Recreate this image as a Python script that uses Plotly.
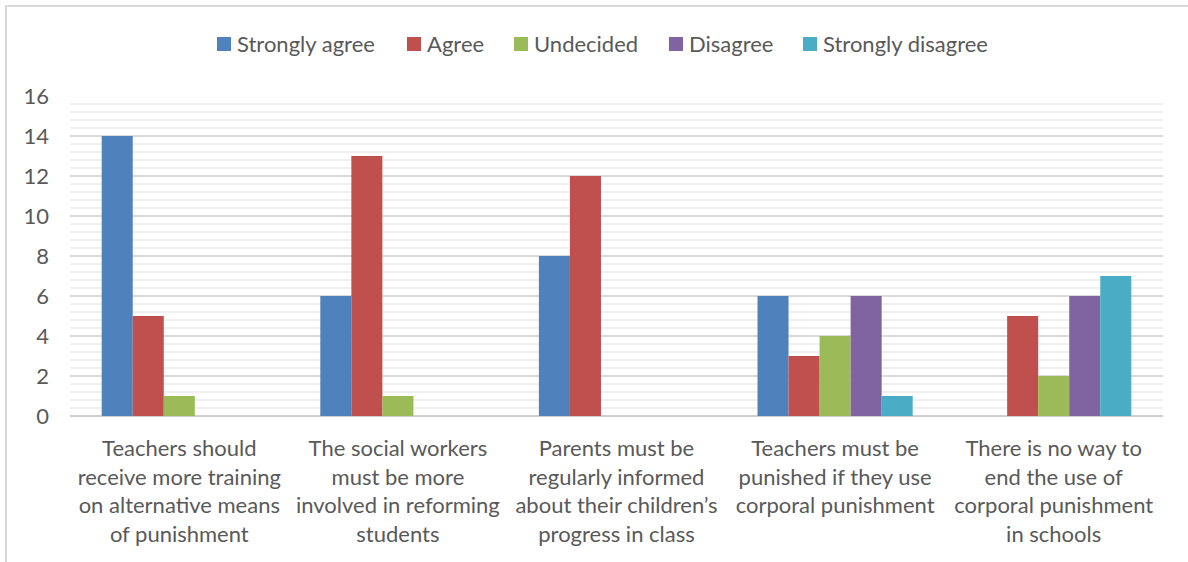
import plotly.graph_objects as go

# Survey statements (category axis)
categories = [
    "Teachers should<br>receive more training<br>on alternative means<br>of punishment",
    "The social workers<br>must be more<br>involved in reforming<br>students",
    "Parents must be<br>regularly informed<br>about their children’s<br>progress in class",
    "Teachers must be<br>punished if they use<br>corporal punishment",
    "There is no way to<br>end the use of<br>corporal punishment<br>in schools",
]

# Number of respondents per response option
strongly_agree = [14, 6, 8, 6, 0]
agree = [5, 13, 12, 3, 5]
undecided = [1, 1, 0, 4, 2]
disagree = [0, 0, 0, 6, 6]
strongly_disagree = [0, 0, 0, 1, 7]

series_names = ["Strongly agree", "Agree", "Undecided", "Disagree", "Strongly disagree"]
series_values = [strongly_agree, agree, undecided, disagree, strongly_disagree]
series_colors = ["#4F81BD", "#C0504D", "#9BBB59", "#8064A2", "#4BACC6"]

y_ticks = [0, 2, 4, 6, 8, 10, 12, 14, 16]

FONT = "Lato"
TEXT_COLOR = "#595959"

fig = go.Figure()
for name, vals, color in zip(series_names, series_values, series_colors):
    fig.add_trace(go.Bar(
        x=categories, y=vals, name=name,
        marker=dict(color=color, line=dict(width=0)),
        showlegend=False,
    ))

W, H = 1188, 562
ML, MR, MT, MB = 70, 25, 96, 146
pw, ph = W - ML - MR, H - MT - MB

def px_x(p):
    return (p - ML) / pw

def px_y(p):
    return 1 - (p - MT) / ph

# Legend row across the top: a colour key square followed by its label
legend_left_px = [217, 407, 514, 669, 803]
legend_center_y = 44
key_size = 14

shapes = [
    dict(type="rect", xref="paper", yref="paper",
         x0=px_x(6), x1=px_x(1200), y0=px_y(575), y1=px_y(6),
         line=dict(color="#D9D9D9", width=2), fillcolor="rgba(0,0,0,0)",
         layer="below"),
]
annotations = []
for name, color, left in zip(series_names, series_colors, legend_left_px):
    shapes.append(dict(
        type="rect", xref="paper", yref="paper",
        x0=px_x(left), x1=px_x(left + key_size),
        y0=px_y(legend_center_y + key_size / 2), y1=px_y(legend_center_y - key_size / 2),
        line=dict(width=0), fillcolor=color,
    ))
    annotations.append(dict(
        xref="paper", yref="paper", x=px_x(left + key_size + 4), y=px_y(legend_center_y),
        xanchor="left", yanchor="middle", showarrow=False, text=name,
        font=dict(family=FONT, size=22, color=TEXT_COLOR),
    ))

fig.update_layout(
    width=W, height=H,
    margin=dict(l=ML, r=MR, t=MT, b=MB, autoexpand=False),
    paper_bgcolor="white", plot_bgcolor="white",
    barmode="group", bargap=0.29, bargroupgap=0,
    font=dict(family=FONT, size=22, color=TEXT_COLOR),
    showlegend=False,
    xaxis=dict(
        showgrid=False, showline=False, ticks="",
        tickfont=dict(family=FONT, size=22, color=TEXT_COLOR),
        ticklabelstandoff=17, fixedrange=True,
    ),
    yaxis=dict(
        range=[0, 16], tickvals=y_ticks,
        showgrid=True, gridcolor="#D9D9D9", gridwidth=1.5,
        minor=dict(dtick=0.4, tick0=0, showgrid=True, gridcolor="#F0F0F0", gridwidth=1.5),
        zeroline=True, zerolinecolor="#D0D0D0", zerolinewidth=2,
        showline=False, ticks="",
        tickfont=dict(family=FONT, size=22, color=TEXT_COLOR),
        ticklabelstandoff=20, fixedrange=True,
    ),
    shapes=shapes,
    annotations=annotations,
)

fig.write_html("out.html")
